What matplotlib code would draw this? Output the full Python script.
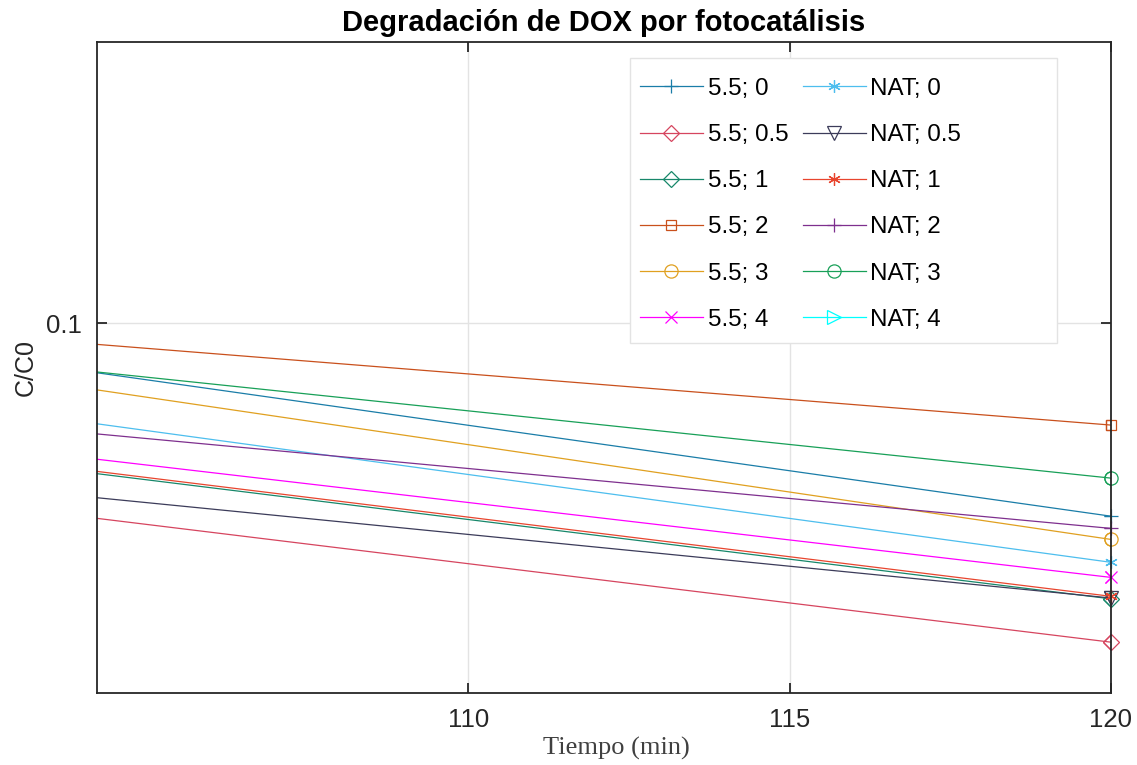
import matplotlib
matplotlib.use("Agg")
import matplotlib.pyplot as plt
from matplotlib.patches import Rectangle
from matplotlib.ticker import FixedLocator, NullLocator, FixedFormatter

# tiempo de muestreo (min)
tiempo = [90, 120]

# C/C0 a pH 5.5 y pH natural, para cada dosis
ph55_0 = [0.1185, 0.0663]
ph55_05 = [0.0837, 0.0507]
ph55_1 = [0.0923, 0.0556]
ph55_2 = [0.1116, 0.0805]
ph55_3 = [0.1156, 0.0631]
ph55_4 = [0.0939, 0.0582]
nat_0 = [0.1053, 0.0601]
nat_05 = [0.0836, 0.0557]
nat_1 = [0.0927, 0.0559]
nat_2 = [0.0947, 0.0646]
nat_3 = [0.1105, 0.0719]
nat_4 = [0.0430, 0.0350]

series = [ph55_0, ph55_05, ph55_1, ph55_2, ph55_3, ph55_4,
          nat_0, nat_05, nat_1, nat_2, nat_3, nat_4]
labels = ['5.5; 0', '5.5; 0.5', '5.5; 1', '5.5; 2', '5.5; 3', '5.5; 4',
          'NAT; 0', 'NAT; 0.5', 'NAT; 1', 'NAT; 2', 'NAT; 3', 'NAT; 4']
colors = ['#1a7da8', '#d6455f', '#17876a', '#c9501c', '#e0a020', '#ff00ff',
          '#4dbeee', '#3c3c5a', '#e8452e', '#7e2f8e', '#18a058', '#00ffff']
asterisk = (6, 2, 0)
markers = ['+', 'D', 'D', 's', 'o', 'x', asterisk, 'v', asterisk, '+', 'o', '>']
msizes = [10, 8, 8, 7.5, 9.5, 8, 9, 9.5, 9, 10, 9.5, 9.5]

plt.rcParams['font.family'] = ['Liberation Sans', 'DejaVu Sans']

W, H = 1137, 765
fig = plt.figure(figsize=(W / 100, H / 100), dpi=100)
ax = fig.add_axes([97 / W, 1 - 693 / H, (1111 - 97) / W, (693 - 42) / H])

for y, lab, c, m, s in zip(series, labels, colors, markers, msizes):
    ax.plot(tiempo, y, color=c, lw=0.9, marker=m, ms=s, mfc='none',
            mec=c, mew=0.9, label=lab)
    # marker on the last sample is allowed to spill over the axes edge
    ax.plot(tiempo[-1:], y[-1:], ls='none', marker=m, ms=s, mfc='none',
            mec=c, mew=0.9, clip_on=False)

ax.set_yscale('log')
ax.set_xlim(104.22, 120)
ax.set_ylim(0.0455, 0.182)
ax.xaxis.set_major_locator(FixedLocator([110, 115, 120]))
ax.yaxis.set_major_locator(FixedLocator([0.1]))
ax.yaxis.set_major_formatter(FixedFormatter(['0.1']))
ax.yaxis.set_minor_locator(NullLocator())

ax.grid(True, color='#e3e3e3', lw=1.0)
ax.set_axisbelow(True)
for sp in ax.spines.values():
    sp.set_color('#262626')
    sp.set_linewidth(1.3)
ax.tick_params(direction='in', length=7, width=1.3, top=True, right=True,
               labelsize=18.5, colors='#262626', pad=11)

ax.set_title('Degradación de DOX por fotocatálisis', fontsize=21,
             fontweight='bold', pad=8)
ax.set_ylabel('C/C0', fontsize=18, color='#262626', labelpad=6)
ax.set_xlabel('Tiempo (min)', fontsize=19, family='Liberation Serif',
              color='#404040', labelpad=3)
ax.xaxis.label.set_x(0.512)

# legend box drawn wider than the entries need
box = Rectangle((630 / W, 1 - 343 / H), 427 / W, 285 / H, transform=fig.transFigure,
                facecolor='white', edgecolor='#e3e3e3', lw=1.0, zorder=4,
                clip_on=False)
ax.add_patch(box)

leg = ax.legend(ncol=2, loc='upper left', bbox_to_anchor=(532 / 1014, 1 - 25 / 651),
                fontsize=17.4, frameon=False, handlelength=2.6,
                handletextpad=0.2, columnspacing=0.6, labelspacing=1.0,
                borderpad=0.45, borderaxespad=0)
leg.set_zorder(5)

fig.savefig('out.png', dpi=100)
